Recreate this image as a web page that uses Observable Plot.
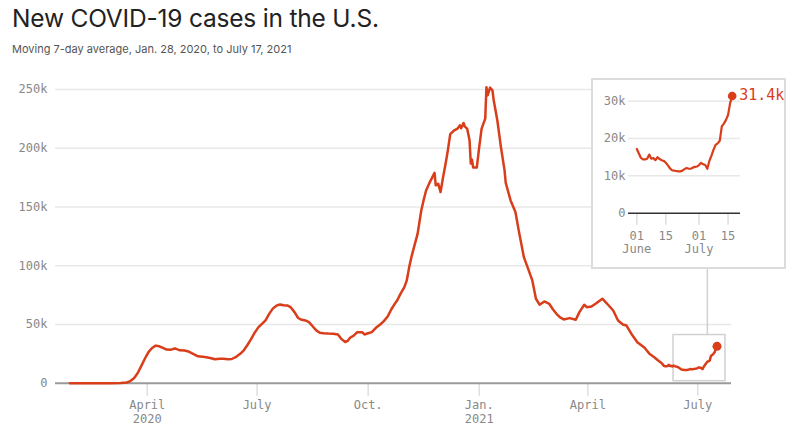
<!DOCTYPE html>
<html>
<head>
<meta charset="utf-8">
<script src="https://cdn.jsdelivr.net/npm/d3@7"></script>
<script src="https://cdn.jsdelivr.net/npm/@observablehq/plot@0.6"></script>
<style>
  html, body { margin: 0; padding: 0; background: #fff; }
  body { width: 801px; height: 435px; position: relative; overflow: hidden; font-family: Inter, "Noto Sans", sans-serif; }
  #chart { position: absolute; left: 0; top: 0; }
  #title { position: absolute; left: 12px; top: 1px; font-size: 24.5px; line-height: 34px; color: #222; font-weight: 400; letter-spacing: -0.2px; white-space: nowrap; }
  #subtitle { position: absolute; left: 12px; top: 41px; font-size: 11px; line-height: 16px; color: #555; white-space: nowrap; }
  #inset { position: absolute; left: 592px; top: 79px; width: 192px; height: 189px; background: #fff; }
  #insetBorder { position: absolute; left: 591px; top: 78px; width: 195px; height: 191px; box-sizing: border-box; border: 2px solid #dcdcdc; pointer-events: none; }
</style>
</head>
<body>
<div id="chart"></div>
<div id="title">New COVID-19 cases in the U.S.</div>
<div id="subtitle">Moving 7-day average, Jan. 28, 2020, to July 17, 2021</div>
<div id="inset"></div>
<div id="insetBorder"></div>
<script>
// ---- main series (7-day average of new cases), Jan. 28, 2020 – May 31, 2021 ----
const mainDates = [
  "2020-01-28","2020-02-15","2020-03-01","2020-03-10","2020-03-15","2020-03-18","2020-03-21","2020-03-24",
  "2020-03-27","2020-03-30","2020-04-02","2020-04-05","2020-04-08","2020-04-11","2020-04-14","2020-04-17",
  "2020-04-20","2020-04-24","2020-04-28","2020-05-02","2020-05-05","2020-05-09","2020-05-13","2020-05-17",
  "2020-05-20","2020-05-24","2020-05-27","2020-05-31","2020-06-03","2020-06-07","2020-06-10","2020-06-14",
  "2020-06-17","2020-06-20","2020-06-23","2020-06-26","2020-06-29","2020-07-02","2020-07-05","2020-07-08",
  "2020-07-11","2020-07-14","2020-07-17","2020-07-20","2020-07-23","2020-07-26","2020-07-29","2020-08-01",
  "2020-08-04","2020-08-07","2020-08-10","2020-08-13","2020-08-16","2020-08-19","2020-08-22","2020-08-25",
  "2020-08-29","2020-09-02","2020-09-06","2020-09-09","2020-09-12","2020-09-14","2020-09-16","2020-09-19",
  "2020-09-22","2020-09-26","2020-09-28","2020-10-01","2020-10-04","2020-10-08","2020-10-11","2020-10-14",
  "2020-10-17","2020-10-20","2020-10-23","2020-10-25","2020-10-28","2020-10-31","2020-11-02","2020-11-04",
  "2020-11-06","2020-11-08","2020-11-11","2020-11-14","2020-11-16","2020-11-18","2020-11-21","2020-11-23",
  "2020-11-25","2020-11-26","2020-11-28","2020-11-30","2020-12-02","2020-12-04","2020-12-06","2020-12-08",
  "2020-12-11","2020-12-14","2020-12-16","2020-12-17","2020-12-19","2020-12-20","2020-12-22","2020-12-24",
  "2020-12-25","2020-12-26","2020-12-27","2020-12-30","2021-01-01","2021-01-03","2021-01-06","2021-01-07",
  "2021-01-08","2021-01-10","2021-01-12","2021-01-13","2021-01-16","2021-01-19","2021-01-22","2021-01-23",
  "2021-01-27","2021-01-31","2021-02-03","2021-02-07","2021-02-11","2021-02-14","2021-02-17","2021-02-20",
  "2021-02-24","2021-02-28","2021-03-03","2021-03-06","2021-03-09","2021-03-12","2021-03-17","2021-03-22",
  "2021-03-25","2021-03-29","2021-03-31","2021-04-04","2021-04-08","2021-04-13","2021-04-17","2021-04-22",
  "2021-04-26","2021-04-30","2021-05-03","2021-05-07","2021-05-12","2021-05-18","2021-05-22","2021-05-26",
  "2021-05-29"
];
const mainCases = [
  0, 0, 10, 100, 600, 1800, 4200, 8500,
  14500, 20800, 26500, 30000, 32000, 31400, 30000, 28600,
  28400, 29600, 28000, 27800, 27000, 25000, 22900, 22500,
  22100, 21300, 20400, 20800, 20800, 20400, 20600, 22700,
  25000, 28000, 32500, 37500, 43000, 47500, 50500, 53500,
  59000, 63500, 66000, 67000, 66300, 66200, 64500, 60500,
  55500, 54000, 53400, 52000, 48500, 45000, 43000, 42600,
  42300, 42100, 41500, 37500, 35000, 36000, 38700, 40500,
  43400, 43400, 41500, 42500, 43500, 47700, 50000, 52800,
  56500, 62500, 67500, 70400, 76500, 81800, 87500, 98800,
  108000, 115800, 127300, 147000, 156000, 164000, 171000, 175000,
  179000, 168400, 169800, 162700, 175000, 186000, 198000, 212000,
  215000, 216700, 219500, 217000, 221500, 218700, 216700, 206700,
  187000, 190300, 183500, 183500, 201000, 216700, 225200, 252000,
  245000, 251600, 249300, 240800, 223800, 201000, 181200, 170400,
  155600, 145700, 128600, 107300, 96000, 87500, 71900, 66800,
  69600, 67600, 63000, 59100, 56000, 54300, 55400, 54000,
  60500, 66800, 64700, 65300, 68100, 71900, 67600, 61900,
  53400, 50000, 49100, 42100, 34900, 30200, 25000, 22100,
  19500
];

// ---- inset series, June 1 – July 17, 2021 ----
const insetDates = [
  "2021-06-01","2021-06-02","2021-06-03","2021-06-04","2021-06-05","2021-06-06","2021-06-07","2021-06-08",
  "2021-06-09","2021-06-10","2021-06-11","2021-06-12","2021-06-13","2021-06-14","2021-06-15","2021-06-16",
  "2021-06-17","2021-06-18","2021-06-19","2021-06-20","2021-06-21","2021-06-22","2021-06-23","2021-06-24",
  "2021-06-25","2021-06-26","2021-06-27","2021-06-28","2021-06-29","2021-06-30","2021-07-01","2021-07-02",
  "2021-07-03","2021-07-04","2021-07-05","2021-07-06","2021-07-07","2021-07-08","2021-07-09","2021-07-10",
  "2021-07-11","2021-07-12","2021-07-13","2021-07-14","2021-07-15","2021-07-16","2021-07-17"
];
const insetCases = [
  17200, 16000, 14800, 14400, 14400, 14600, 15700, 14600,
  14800, 14200, 15000, 14500, 14200, 14000, 13500, 12800,
  12000, 11500, 11400, 11300, 11200, 11200, 11400, 11800,
  12100, 11900, 11900, 12200, 12400, 12500, 12900, 13500,
  13100, 12900, 11900, 14000, 15400, 17000, 18300, 18700,
  19400, 23300, 24000, 25000, 26300, 29500, 31400
];

// ---- ticks ----
const yTicks = [0, 50000, 100000, 150000, 200000, 250000];
const yTickLabels = ["0", "50k", "100k", "150k", "200k", "250k"];
const xTickDates = ["2020-04-01", "2020-07-01", "2020-10-01", "2021-01-01", "2021-04-01", "2021-07-01"];
const xTickLabels = ["April\n2020", "July", "Oct.", "Jan.\n2021", "April", "July"];

const insetYTicks = [0, 10000, 20000, 30000];
const insetYTickLabels = ["0", "10k", "20k", "30k"];
const insetXTickDates = ["2021-06-01", "2021-06-15", "2021-07-01", "2021-07-15"];
const insetXTickLabels = ["01\nJune", "15", "01\nJuly", "15"];

// ---- zoom window annotation (in data units) ----
const zoomWindow = { start: "2021-06-11", end: "2021-07-24", low: 1700, high: 41000, connector: "2021-07-09" };

const parse = d3.utcParse("%Y-%m-%d");
const RED = "#d93d1a";
const MONO = "'DejaVu Sans Mono', 'Liberation Mono', monospace";

const insetData = insetDates.map((d, i) => ({ date: parse(d), cases: insetCases[i] }));
const mainData = mainDates.map((d, i) => ({ date: parse(d), cases: mainCases[i] })).concat(insetData);
const last = mainData[mainData.length - 1];

const xTicks = xTickDates.map(parse);
const xLab = d => xTickLabels[xTicks.findIndex(t => +t === +d)];
const yLab = d => yTickLabels[yTicks.indexOf(d)];
const ixTicks = insetXTickDates.map(parse);
const ixLab = d => insetXTickLabels[ixTicks.findIndex(t => +t === +d)];
const iyLab = d => insetYTickLabels[insetYTicks.indexOf(d)];

const main = Plot.plot({
  width: 801, height: 435,
  marginLeft: 55, marginRight: 70, marginTop: 89, marginBottom: 52.3,
  style: { fontFamily: MONO, fontSize: "12px", color: "#888", background: "#fff" },
  x: { type: "utc", domain: [parse("2020-01-16"), parse("2021-07-29")] },
  y: { domain: [0, 250000] },
  marks: [
    Plot.gridY(yTicks.filter(v => v > 0), { stroke: "#e8e8e8", strokeOpacity: 1, strokeWidth: 1.5 }),
    Plot.axisY(yTicks, { tickSize: 0, tickPadding: 8, tickFormat: yLab, label: null }),
    Plot.axisX(xTicks, { tickSize: 13, color: "#dedede", strokeWidth: 1.5, tickFormat: () => "", label: null }),
    Plot.axisX(xTicks, { tickSize: 0, tickPadding: 16, tickFormat: xLab, lineHeight: 1.15, label: null }),
    Plot.ruleY([0], { stroke: "#9a9a9a", strokeWidth: 2 }),
    Plot.ruleX([zoomWindow], { x: d => parse(d.connector), y1: d => d.high, y2: 120000, stroke: "#d0d0d0", strokeWidth: 1.5 }),
    Plot.rect([zoomWindow], {
      x1: d => parse(d.start), x2: d => parse(d.end), y1: d => d.low, y2: d => d.high,
      fill: "none", stroke: "#d0d0d0", strokeWidth: 1.5
    }),
    Plot.line(mainData, { x: "date", y: "cases", stroke: RED, strokeWidth: 2.5, strokeLinejoin: "round" }),
    Plot.dot([last], { x: "date", y: "cases", r: 4.5, fill: RED, stroke: "none" })
  ]
});
document.getElementById("chart").append(main);

const iLast = insetData[insetData.length - 1];
const inset = Plot.plot({
  width: 192, height: 189,
  marginLeft: 36, marginRight: 44, marginTop: 21.7, marginBottom: 55.3,
  style: { fontFamily: MONO, fontSize: "12px", color: "#888", background: "#fff", overflow: "visible" },
  x: { type: "utc", domain: [parse("2021-05-28"), parse("2021-07-21")] },
  y: { domain: [0, 30000] },
  marks: [
    Plot.gridY(insetYTicks.filter(v => v > 0), { stroke: "#e8e8e8", strokeOpacity: 1, strokeWidth: 1.5 }),
    Plot.axisY(insetYTicks, { tickSize: 0, tickPadding: 3, tickFormat: iyLab, label: null }),
    Plot.axisX(ixTicks, { tickSize: 12, color: "#dedede", strokeWidth: 1.5, tickFormat: () => "", label: null }),
    Plot.axisX(ixTicks, { tickSize: 0, tickPadding: 17, tickFormat: ixLab, lineHeight: 1.1, label: null }),
    Plot.ruleY([0], { stroke: "#333", strokeWidth: 1.5 }),
    Plot.line(insetData, { x: "date", y: "cases", stroke: RED, strokeWidth: 2.2, strokeLinejoin: "round" }),
    Plot.dot([iLast], { x: "date", y: "cases", r: 4.3, fill: RED, stroke: "none" }),
    Plot.text([iLast], {
      x: "date", y: "cases", text: d => d3.format(".1f")(d.cases / 1000) + "k",
      textAnchor: "start", dx: 7, dy: -1, fill: RED, fontSize: 15, fontFamily: MONO
    })
  ]
});
document.getElementById("inset").append(inset);
</script>
</body>
</html>
